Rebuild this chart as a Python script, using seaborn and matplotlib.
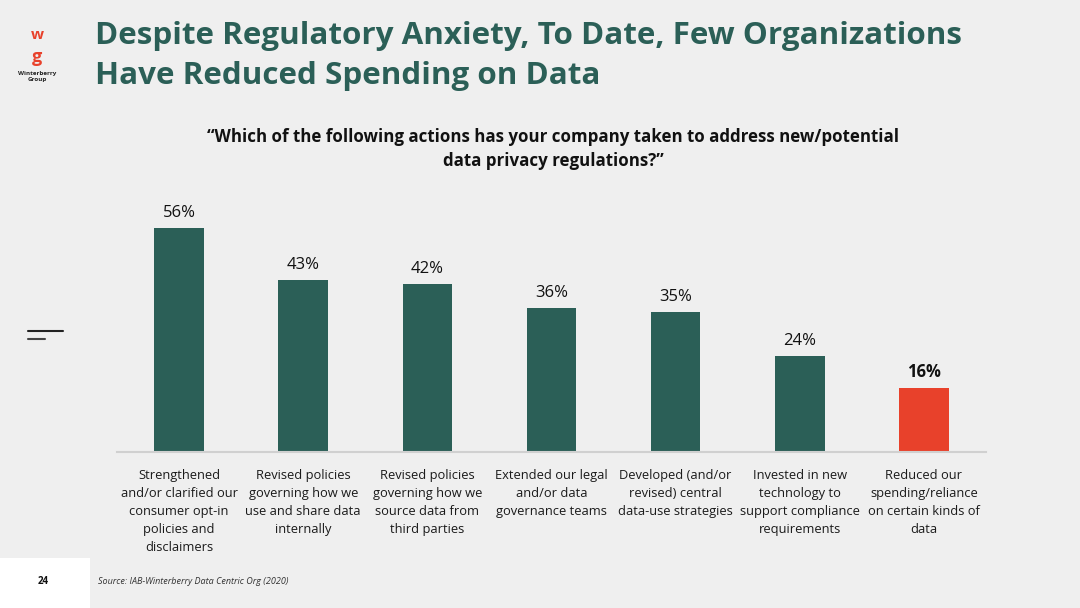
import matplotlib.pyplot as plt
import matplotlib.patches as mpatches
import seaborn as sns
import pandas as pd

# ---- data -----------------------------------------------------------
categories = [
    "Strengthened\nand/or clarified our\nconsumer opt-in\npolicies and\ndisclaimers",
    "Revised policies\ngoverning how we\nuse and share data\ninternally",
    "Revised policies\ngoverning how we\nsource data from\nthird parties",
    "Extended our legal\nand/or data\ngovernance teams",
    "Developed (and/or\nrevised) central\ndata-use strategies",
    "Invested in new\ntechnology to\nsupport compliance\nrequirements",
    "Reduced our\nspending/reliance\non certain kinds of\ndata",
]
values = [56, 43, 42, 36, 35, 24, 16]
highlight = [False, False, False, False, False, False, True]

GREEN = "#2b5f57"
RED = "#e8412b"
BG = "#efefef"

sns.set_theme(style="white")
plt.rcParams["font.family"] = ["Open Sans", "DejaVu Sans"]

df = pd.DataFrame({"cat": categories, "val": values,
                   "hl": ["hl" if h else "base" for h in highlight]})

fig = plt.figure(figsize=(10.8, 6.08), dpi=100)
fig.patch.set_facecolor(BG)

# axes in pixel coords: x 117..986, y 152..452 (from top)
W, H = 1080, 608
ax = fig.add_axes([117 / W, (H - 452) / H, (986 - 117) / W, 300 / H])
ax.set_facecolor(BG)

sns.barplot(data=df, x="cat", y="val", hue="hl",
            palette={"base": GREEN, "hl": RED}, width=0.4,
            legend=False, ax=ax, saturation=1, linewidth=0)
ax.set_ylim(0, 75)
ax.set_xlim(-0.5, len(values) - 0.5)
ax.set(xlabel="", ylabel="")
ax.set_yticks([])
for s in ["top", "right", "left"]:
    ax.spines[s].set_visible(False)
ax.spines["bottom"].set_color("#d0d0d0")
ax.spines["bottom"].set_linewidth(1.5)
ax.tick_params(axis="x", length=0, pad=12, labelsize=9.3, colors="#1a1a1a")
for lbl in ax.get_xticklabels():
    lbl.set_linespacing(1.52)
    lbl.set_va("top")

for i, (v, h) in enumerate(zip(values, highlight)):
    ax.text(i, v + 1.8, f"{v}%", ha="center", va="bottom",
            fontsize=12, color="#111111",
            fontweight="bold" if h else "normal")

# ---- title / subtitle ----------------------------------------------
fig.text(95 / W, 1 - 36 / H, "Despite Regulatory Anxiety, To Date, Few Organizations",
         fontsize=22.6, fontweight="bold", color=GREEN, va="center", ha="left")
fig.text(95 / W, 1 - 76 / H, "Have Reduced Spending on Data",
         fontsize=22.6, fontweight="bold", color=GREEN, va="center", ha="left")

fig.text(553 / W, 1 - 137 / H,
         "\u201cWhich of the following actions has your company taken to address new/potential",
         fontsize=12.2, fontweight="bold", color="#111111", ha="center", va="center")
fig.text(553 / W, 1 - 161 / H, "data privacy regulations?\u201d",
         fontsize=12.2, fontweight="bold", color="#111111", ha="center", va="center")

# ---- logo --------------------------------------------------------------
fig.text(37 / W, 1 - 35 / H, "w", fontsize=11, fontweight="bold", color=RED,
         ha="center", va="center")
fig.text(37 / W, 1 - 57 / H, "g", fontsize=13, fontweight="bold", color=RED,
         ha="center", va="center")
fig.text(37 / W, 1 - 73 / H, "Winterberry", fontsize=4.5, fontweight="bold",
         color="#222222", ha="center", va="center")
fig.text(37 / W, 1 - 79 / H, "Group", fontsize=4.5, fontweight="bold",
         color="#222222", ha="center", va="center")

# decorative lines on the left
fig.add_artist(plt.Line2D([28 / W, 63 / W], [1 - 331 / H] * 2, color="#222222", lw=1.5))
fig.add_artist(plt.Line2D([28 / W, 45 / W], [1 - 339 / H] * 2, color="#444444", lw=1.5))

# ---- footer ------------------------------------------------------------
fig.add_artist(mpatches.Rectangle((0, 0), 90 / W, 50 / H, transform=fig.transFigure,
                                  facecolor="white", edgecolor="none"))
fig.text(43 / W, 1 - 582 / H, "24", fontsize=7, fontweight="bold",
         color="#111111", ha="center", va="center")
fig.text(98 / W, 1 - 581 / H, "Source: IAB-Winterberry Data Centric Org (2020)",
         fontsize=6.5, style="italic", color="#333333", ha="left", va="center")

fig.savefig("out.png", dpi=100, facecolor=BG)
